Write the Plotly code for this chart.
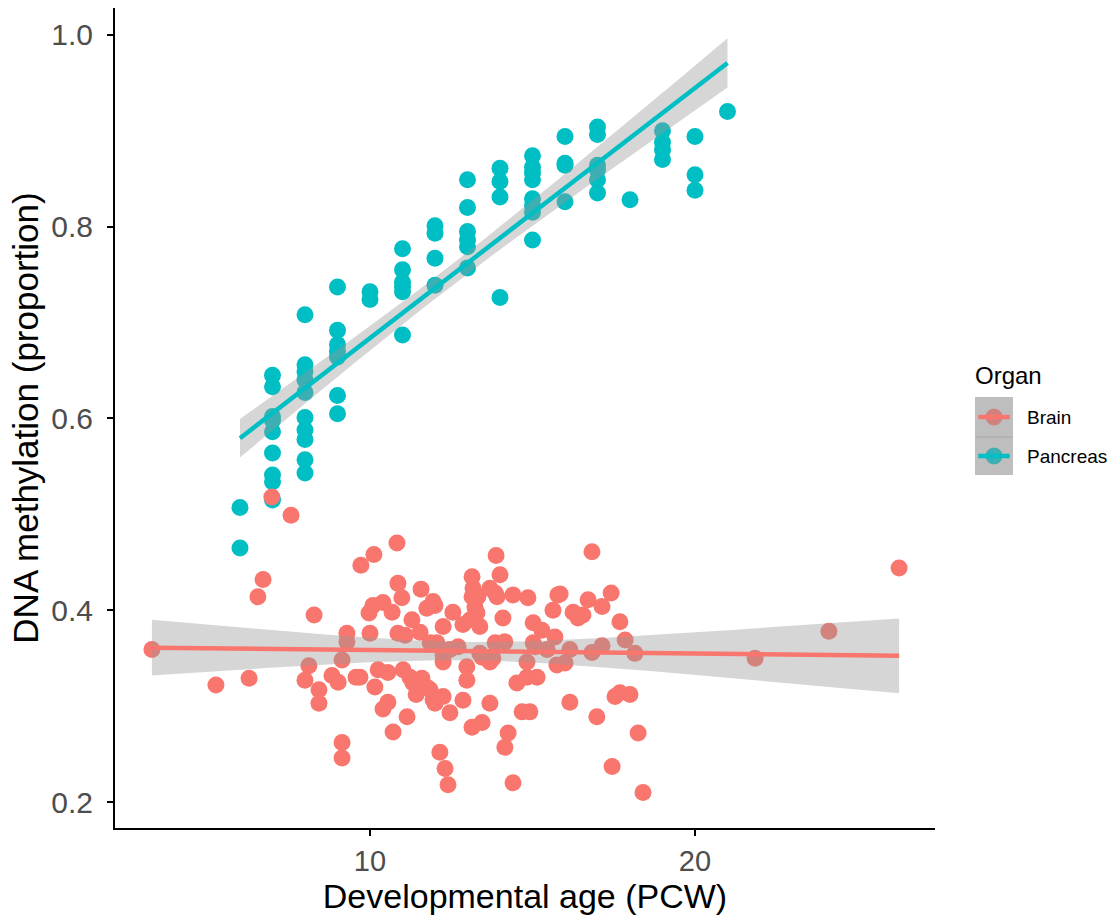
import numpy as np
import plotly.graph_objects as go

# ---------------- data ----------------
pancreas_x = ([6]*2 + [7]*9 + [8]*10 + [9]*7 + [10]*2 + [11]*6 + [12]*4 + [13]*6 +
              [14]*4 + [15]*8 + [16]*4 + [17]*6 + [18]*1 + [19]*4 + [20]*3 + [21]*1)
pancreas_y = [0.507, 0.465,
              0.645, 0.633, 0.602, 0.598, 0.586, 0.564, 0.541, 0.534, 0.515,
              0.708, 0.656, 0.649, 0.640, 0.627, 0.601, 0.588, 0.578, 0.557, 0.543,
              0.737, 0.692, 0.677, 0.670, 0.664, 0.624, 0.605,
              0.732, 0.724,
              0.777, 0.755, 0.742, 0.737, 0.732, 0.687,
              0.801, 0.793, 0.767, 0.739,
              0.849, 0.820, 0.795, 0.786, 0.779, 0.757,
              0.861, 0.847, 0.831, 0.726,
              0.874, 0.862, 0.856, 0.849, 0.829, 0.822, 0.815, 0.786,
              0.894, 0.866, 0.864, 0.826,
              0.904, 0.896, 0.864, 0.859, 0.849, 0.835,
              0.828,
              0.900, 0.888, 0.880, 0.870,
              0.894, 0.854, 0.838,
              0.920]

brain_x = [3.29, 5.26, 6.28, 6.55, 6.71, 6.98, 7.57, 8.28, 8.00, 8.12, 8.43, 8.43, 8.83, 9.02,
           9.14, 9.29, 9.29, 9.57, 9.14, 9.14, 9.72, 10.12, 10.83, 9.97, 10.00, 10.15, 10.25,
           10.55, 10.55, 10.40, 10.71, 10.86, 10.09, 10.40, 10.68, 10.98, 11.57, 11.29, 11.75,
           11.94, 10.86, 11.08, 11.54, 9.69, 11.02, 11.23, 11.32, 11.60, 11.85, 11.14, 11.42,
           11.78, 11.94, 11.85, 12.25, 12.46, 12.71, 12.98, 13.45, 13.78, 13.85, 14.15, 15.08,
           15.45, 14.83, 15.75, 12.25, 12.00, 12.46, 12.86, 12.98, 13.14, 13.45, 13.69, 14.52,
           14.83, 15.14, 14.68, 14.25, 14.15, 14.40, 12.15, 12.31, 12.40, 13.88, 13.14, 14.00,
           13.17, 13.32, 13.85, 14.40, 14.86, 12.55, 13.08, 13.29, 13.38, 14.09, 15.02, 15.29,
           15.63, 15.78, 12.25, 12.86, 12.00, 15.85, 16.71, 17.42, 17.14, 16.25, 16.55, 16.40,
           17.69, 15.69, 17.85, 17.14, 16.83, 16.15, 18.15, 16.00, 16.15, 16.98, 17.54, 18.00,
           17.69, 18.25, 17.45, 18.40, 14.92, 16.83, 26.28, 24.12, 21.85, 12.06, 13.38, 15.02,
           13.69, 13.23, 13.14, 13.91, 13.69, 12.25]
brain_y = [0.359, 0.322, 0.329, 0.414, 0.432, 0.518, 0.499, 0.395, 0.327, 0.342, 0.317, 0.303,
           0.332, 0.325, 0.348, 0.376, 0.367, 0.330, 0.262, 0.246, 0.447, 0.458, 0.470, 0.397,
           0.376, 0.320, 0.338, 0.335, 0.304, 0.297, 0.273, 0.428, 0.405, 0.408, 0.398, 0.413,
           0.422, 0.390, 0.402, 0.409, 0.376, 0.374, 0.377, 0.330, 0.338, 0.330, 0.324, 0.329,
           0.317, 0.289, 0.312, 0.319, 0.307, 0.366, 0.353, 0.359, 0.362, 0.341, 0.351, 0.350,
           0.366, 0.367, 0.362, 0.359, 0.346, 0.343, 0.310, 0.303, 0.293, 0.306, 0.327, 0.278,
           0.283, 0.303, 0.324, 0.330, 0.330, 0.294, 0.272, 0.257, 0.220, 0.252, 0.235, 0.218,
           0.457, 0.435, 0.437, 0.423, 0.414, 0.418, 0.416, 0.413, 0.398, 0.390, 0.397, 0.383,
           0.392, 0.387, 0.379, 0.400, 0.416, 0.383, 0.385, 0.405, 0.417, 0.411, 0.418, 0.404,
           0.398, 0.395, 0.392, 0.388, 0.372, 0.369, 0.363, 0.356, 0.359, 0.355, 0.345, 0.304,
           0.289, 0.310, 0.312, 0.314, 0.272, 0.237, 0.210, 0.294, 0.461, 0.444, 0.378, 0.350,
           0.366, 0.355, 0.366, 0.423, 0.403, 0.414, 0.414, 0.346, 0.346]

organs = ["Brain", "Pancreas"]
colors = {"Brain": "#F8766D", "Pancreas": "#00BFC4"}
x_ticks = [10, 20]
y_ticks = [0.2, 0.4, 0.6, 0.8, 1.0]

FONT = "Liberation Sans, Arial, Helvetica, sans-serif"


def t975(df):
    z = 1.959964
    return z + (z**3 + z) / (4 * df) + (5 * z**5 + 16 * z**3 + 3 * z) / (96 * df**2)


def lm_smooth(x, y, n=80):
    x = np.asarray(x, float)
    y = np.asarray(y, float)
    b, a = np.polyfit(x, y, 1)
    resid = y - (a + b * x)
    df = len(x) - 2
    s = np.sqrt(np.sum(resid**2) / df)
    xm = x.mean()
    sxx = np.sum((x - xm) ** 2)
    xs = np.linspace(x.min(), x.max(), n)
    fit = a + b * xs
    se = s * np.sqrt(1 / len(x) + (xs - xm) ** 2 / sxx)
    t = t975(df)
    return xs, fit, fit - t * se, fit + t * se


fig = go.Figure()

# points
for org, xs, ys in [("Pancreas", pancreas_x, pancreas_y), ("Brain", brain_x, brain_y)]:
    fig.add_trace(go.Scatter(x=xs, y=ys, mode="markers",
                             marker=dict(size=17, color=colors[org], line=dict(width=0)),
                             showlegend=False, hoverinfo="skip"))

# smooths
for org, xs, ys in [("Brain", brain_x, brain_y), ("Pancreas", pancreas_x, pancreas_y)]:
    gx, fit, lo, hi = lm_smooth(xs, ys)
    fig.add_trace(go.Scatter(x=np.concatenate([gx, gx[::-1]]),
                             y=np.concatenate([hi, lo[::-1]]),
                             fill="toself", fillcolor="rgba(153,153,153,0.4)",
                             line=dict(width=0), mode="lines",
                             showlegend=False, hoverinfo="skip"))
    fig.add_trace(go.Scatter(x=gx, y=fit, mode="lines",
                             line=dict(color=colors[org], width=4.5),
                             showlegend=False, hoverinfo="skip"))

# manual legend (ggplot style keys)
key_x0, key_x1 = 1.0488, 1.0951
key_rows = {"Brain": (0.4768, 0.5256), "Pancreas": (0.4305, 0.4768)}
muted = {"Brain": "#D0837E", "Pancreas": "#3BAFB2"}
shapes = []
annotations = []
for org in organs:
    y0, y1 = key_rows[org]
    yc = (y0 + y1) / 2
    shapes.append(dict(type="rect", xref="paper", yref="paper", x0=key_x0, x1=key_x1,
                       y0=y0, y1=y1, fillcolor="#BEBEBE", line=dict(width=0), layer="above"))
    r = 0.0104
    xc = (key_x0 + key_x1) / 2
    shapes.append(dict(type="circle", xref="paper", yref="paper", x0=xc - r, x1=xc + r,
                       y0=yc - r, y1=yc + r, fillcolor=muted[org], line=dict(width=0),
                       layer="above"))
    shapes.append(dict(type="line", xref="paper", yref="paper", x0=key_x0 + 0.004,
                       x1=key_x1 - 0.004, y0=yc, y1=yc,
                       line=dict(color=colors[org], width=4.5), layer="above"))
    annotations.append(dict(text=org, xref="paper", yref="paper", x=1.1098, y=yc,
                            xanchor="left", yanchor="middle", showarrow=False,
                            font=dict(size=19, color="black", family=FONT)))
shapes.append(dict(type="line", xref="paper", yref="paper", x0=key_x0, x1=key_x1,
                   y0=0.4768, y1=0.4768, line=dict(color="#A8A8A8", width=1), layer="above"))
annotations.append(dict(text="Organ", xref="paper", yref="paper", x=key_x0 - 0.002, y=0.5524,
                        xanchor="left", yanchor="middle", showarrow=False,
                        font=dict(size=24, color="black", family=FONT)))

fig.update_layout(
    width=1115, height=916,
    margin=dict(l=115, r=180, t=8, b=88),
    plot_bgcolor="white", paper_bgcolor="white",
    font=dict(family=FONT, color="black"),
    shapes=shapes, annotations=annotations,
    showlegend=False,
)
fig.update_xaxes(range=[2.154, 27.385], tickvals=x_ticks, ticktext=[str(v) for v in x_ticks],
                 showgrid=False, zeroline=False, showline=True, linecolor="black", linewidth=2,
                 ticks="outside", ticklen=6, tickwidth=1.5, tickcolor="black",
                 tickfont=dict(size=29, color="#4D4D4D", family=FONT),
                 ticklabelstandoff=0,
                 title=dict(text="Developmental age (PCW)", font=dict(size=34, family=FONT),
                            standoff=6))
fig.update_yaxes(range=[0.1729, 1.028], tickvals=y_ticks, ticktext=[f"{v:.1f}" for v in y_ticks],
                 showgrid=False, zeroline=False, showline=True, linecolor="black", linewidth=2,
                 ticks="outside", ticklen=6, tickwidth=1.5, tickcolor="black",
                 tickfont=dict(size=30, color="#4D4D4D", family=FONT),
                 ticklabelstandoff=8,
                 title=dict(text="DNA methylation (proportion)", font=dict(size=35, family=FONT),
                            standoff=2))

fig.write_html("out.html")
